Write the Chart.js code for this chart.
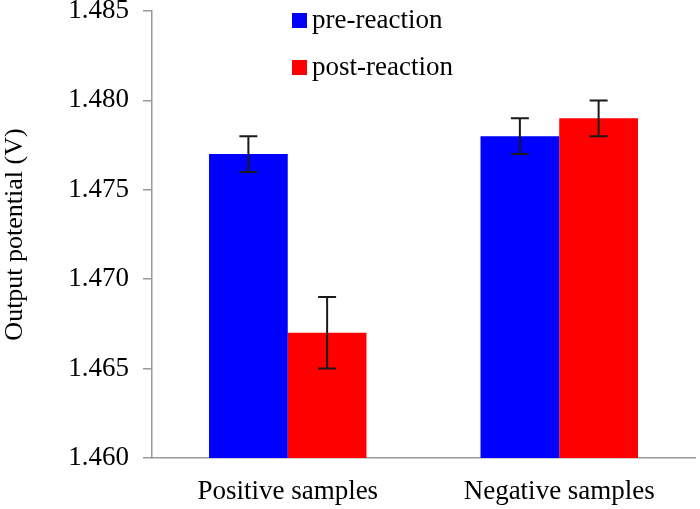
<!DOCTYPE html>
<html lang="en">
<head>
    <meta charset="UTF-8">
    <title>Output potential</title>
    <style>
        html, body { margin: 0; padding: 0; background: #fff; }
        #wrap { width: 700px; height: 509px; }
    </style>
</head>
<body>
    <div id="wrap"><canvas id="chartCanvas" width="700" height="509"></canvas></div>
    <script src="https://cdn.jsdelivr.net/npm/chart.js"></script>
    <script>
        const categories = ['Positive samples', 'Negative samples'];
        const preReaction = [1.477, 1.478];
        const postReaction = [1.467, 1.479];
        const preErr = [0.001, 0.001];
        const postErr = [0.002, 0.001];
        const yTicks = [1.460, 1.465, 1.470, 1.475, 1.480, 1.485];

        const FONT = '"Liberation Serif", "Times New Roman", serif';
        const errors = [preErr, postErr];

        // error bars on top of each bar
        const errorBars = {
            id: 'errorBars',
            afterDatasetsDraw(chart) {
                const ctx = chart.ctx;
                const y = chart.scales.y;
                ctx.save();
                ctx.strokeStyle = '#1a1a1a';
                ctx.lineWidth = 2;
                chart.data.datasets.forEach((ds, i) => {
                    chart.getDatasetMeta(i).data.forEach((bar, j) => {
                        const v = ds.data[j], e = errors[i][j];
                        const top = y.getPixelForValue(v + e);
                        const bot = y.getPixelForValue(v - e);
                        ctx.beginPath();
                        ctx.moveTo(bar.x, top); ctx.lineTo(bar.x, bot);
                        ctx.moveTo(bar.x - 9, top); ctx.lineTo(bar.x + 9, top);
                        ctx.moveTo(bar.x - 9, bot); ctx.lineTo(bar.x + 9, bot);
                        ctx.stroke();
                    });
                });
                ctx.restore();
            }
        };

        // legend inside the plot, two rows
        const innerLegend = {
            id: 'innerLegend',
            afterDraw(chart) {
                const ctx = chart.ctx;
                ctx.save();
                ctx.font = '27px ' + FONT;
                ctx.textBaseline = 'middle';
                chart.data.datasets.forEach((ds, i) => {
                    const cy = 20 + i * 47;
                    ctx.fillStyle = ds.backgroundColor;
                    ctx.fillRect(292, cy - 7, 15, 15);
                    ctx.fillStyle = '#000';
                    ctx.fillText(ds.label, 312, cy + 1);
                });
                ctx.restore();
            }
        };

        const ctx = document.getElementById('chartCanvas').getContext('2d');
        new Chart(ctx, {
            type: 'bar',
            data: {
                labels: categories,
                datasets: [
                    { label: 'pre-reaction', data: preReaction, backgroundColor: '#0000ff' },
                    { label: 'post-reaction', data: postReaction, backgroundColor: '#ff0000' }
                ]
            },
            options: {
                responsive: false,
                animation: false,
                layout: { padding: { top: 11, right: 5, left: 0, bottom: 0 } },
                plugins: { legend: { display: false }, tooltip: { enabled: false } },
                datasets: { bar: { categoryPercentage: 0.58, barPercentage: 1 } },
                scales: {
                    x: {
                        grid: { display: false },
                        border: { color: '#999', width: 1.5 },
                        ticks: { color: '#000', font: { family: FONT, size: 27 }, padding: 10 },
                        afterFit(s) { s.height = 51; s.paddingLeft = 0; s.paddingRight = 0; }
                    },
                    y: {
                        min: yTicks[0],
                        max: yTicks[yTicks.length - 1],
                        afterBuildTicks(s) { s.ticks = yTicks.map(v => ({ value: v })); },
                        grid: { drawOnChartArea: false, drawTicks: true, tickLength: 9, color: '#999', lineWidth: 1.5 },
                        border: { color: '#999', width: 1.5 },
                        ticks: {
                            color: '#000',
                            font: { family: FONT, size: 27 },
                            padding: 14,
                            callback: v => Number(v).toFixed(3)
                        },
                        title: {
                            display: true,
                            text: 'Output potential (V)',
                            color: '#000',
                            font: { family: FONT, size: 26 },
                            padding: { top: 0, bottom: 0 }
                        },
                        afterFit(s) { s.width = 152; s.paddingTop = 0; s.paddingBottom = 0; }
                    }
                }
            },
            plugins: [errorBars, innerLegend]
        });
    </script>
</body>
</html>
